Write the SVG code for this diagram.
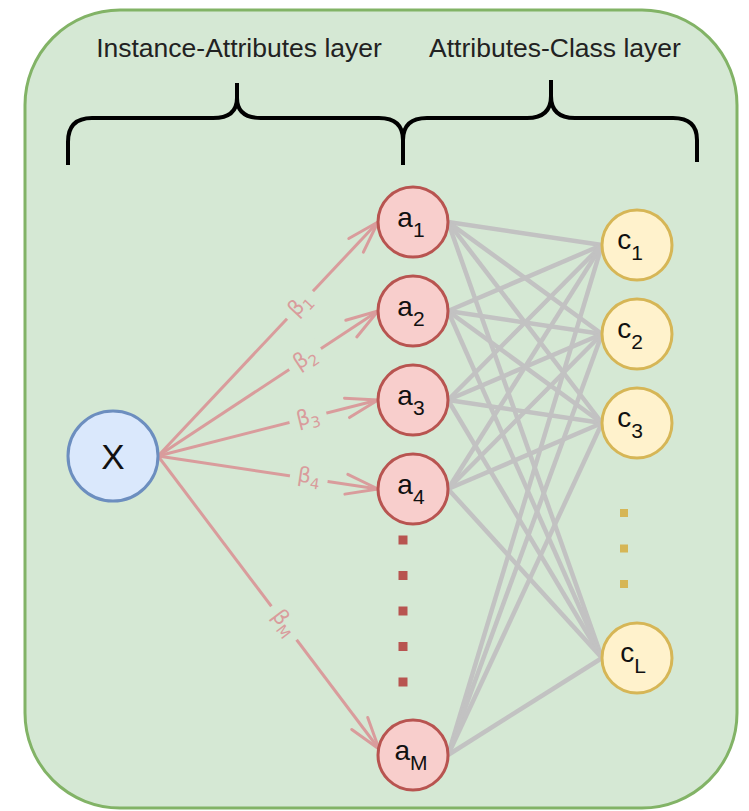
<svg xmlns="http://www.w3.org/2000/svg" width="749" height="811" viewBox="0 0 749 811">
<defs>
<style>
text{font-family:"Liberation Sans",Arial,Helvetica,sans-serif;}
.title{font-size:26.5px;fill:#222;text-anchor:middle;}
.brace{fill:none;stroke:#000;stroke-width:4;stroke-linecap:butt;stroke-linejoin:round;}
.gray{stroke:#c2c2c2;stroke-width:4.5;fill:none;}
.pink{stroke:#d99c9c;stroke-width:3;fill:none;marker-end:url(#openArrow);}
.lblbg{fill:#d5e8d4;}
.lbl{font-family:"DejaVu Sans","Liberation Sans",sans-serif;font-size:21px;fill:#d99c9c;text-anchor:middle;}
.anode{fill:#f8cecc;stroke:#b85450;stroke-width:3;}
.cnode{fill:#fff2cc;stroke:#d6b656;stroke-width:3;}
.xnode{fill:#dae8fc;stroke:#6c8ebf;stroke-width:3;}
.nl{font-size:28px;fill:#111;text-anchor:middle;}
</style>
<marker id="openArrow" markerUnits="userSpaceOnUse" markerWidth="40" markerHeight="30" viewBox="-36 -15 40 30" refX="0" refY="0" orient="auto">
<path d="M-32,-10 L0,0 L-32,10" fill="none" stroke="#d99c9c" stroke-width="3" stroke-linejoin="round" stroke-linecap="round"/>
</marker>
</defs>
<g id="container">
<rect x="25" y="10" width="712" height="798" rx="95" ry="95" fill="#d5e8d4" stroke="#82b366" stroke-width="3"/>
</g>
<g id="layer-labels">
<text class="title" x="239" y="57">Instance-Attributes layer</text>
<text class="title" x="555" y="57">Attributes-Class layer</text>
</g>
<g id="braces">
<path class="brace" d="M68,165 V142 Q68,118 92,118 H213 Q237,118 237,98 V83 M237,98 Q237,118 261,118 H379 Q403,118 403,140 V165"/>
<path class="brace" d="M403,140 Q403,118 427,118 H527 Q551,118 551,96 V80 M551,96 Q551,118 575,118 H673 Q697,118 697,140 V162"/>
</g>
<g id="connectors">
<g id="gray-edges">
<line class="gray" x1="448" y1="222" x2="602" y2="245"/>
<line class="gray" x1="448" y1="222" x2="602" y2="334"/>
<line class="gray" x1="448" y1="222" x2="602" y2="423"/>
<line class="gray" x1="448" y1="222" x2="602" y2="658"/>
<line class="gray" x1="448" y1="311" x2="602" y2="245"/>
<line class="gray" x1="448" y1="311" x2="602" y2="334"/>
<line class="gray" x1="448" y1="311" x2="602" y2="423"/>
<line class="gray" x1="448" y1="311" x2="602" y2="658"/>
<line class="gray" x1="448" y1="400" x2="602" y2="245"/>
<line class="gray" x1="448" y1="400" x2="602" y2="334"/>
<line class="gray" x1="448" y1="400" x2="602" y2="423"/>
<line class="gray" x1="448" y1="400" x2="602" y2="658"/>
<line class="gray" x1="448" y1="489" x2="602" y2="245"/>
<line class="gray" x1="448" y1="489" x2="602" y2="334"/>
<line class="gray" x1="448" y1="489" x2="602" y2="423"/>
<line class="gray" x1="448" y1="489" x2="602" y2="658"/>
<line class="gray" x1="448" y1="755" x2="602" y2="245"/>
<line class="gray" x1="448" y1="755" x2="602" y2="334"/>
<line class="gray" x1="448" y1="755" x2="602" y2="423"/>
<line class="gray" x1="448" y1="755" x2="602" y2="658"/>
</g>
<g id="pink-edges">
<line class="pink" x1="158" y1="456" x2="378" y2="222"/>
<line class="pink" x1="158" y1="456" x2="378" y2="311"/>
<line class="pink" x1="158" y1="456" x2="378" y2="400"/>
<line class="pink" x1="158" y1="456" x2="378" y2="489"/>
<line class="pink" x1="158" y1="456" x2="379" y2="749"/>
</g>
<g id="edge-labels">
<g transform="translate(300,305) rotate(-46.7)"><rect class="lblbg" x="-19" y="-12" width="38" height="24"/><text class="lbl" x="0" y="6">β<tspan font-size="15" dy="5">1</tspan></text></g>
<g transform="translate(305,359) rotate(-33.2)"><rect class="lblbg" x="-19" y="-12" width="38" height="24"/><text class="lbl" x="0" y="6">β<tspan font-size="15" dy="5">2</tspan></text></g>
<g transform="translate(308,418) rotate(-14)"><rect class="lblbg" x="-19" y="-12" width="38" height="24"/><text class="lbl" x="0" y="6">β<tspan font-size="15" dy="5">3</tspan></text></g>
<g transform="translate(309,477) rotate(8.5)"><rect class="lblbg" x="-19" y="-12" width="38" height="24"/><text class="lbl" x="0" y="6">β<tspan font-size="15" dy="5">4</tspan></text></g>
<g transform="translate(284,623) rotate(53)"><rect class="lblbg" x="-21" y="-12" width="42" height="24"/><text class="lbl" x="0" y="6">β<tspan font-size="15" dy="5">M</tspan></text></g>
</g>
</g>
<g id="node-x"><circle class="xnode" cx="113" cy="456" r="45"/><text x="113" y="469" font-size="35" fill="#111" text-anchor="middle">X</text></g>
<g id="node-a1"><circle class="anode" cx="413" cy="222" r="35"/><text class="nl" x="411" y="227">a<tspan font-size="21" dy="10">1</tspan></text></g>
<g id="node-a2"><circle class="anode" cx="413" cy="311" r="35"/><text class="nl" x="411" y="316">a<tspan font-size="21" dy="10">2</tspan></text></g>
<g id="node-a3"><circle class="anode" cx="413" cy="400" r="35"/><text class="nl" x="411" y="405">a<tspan font-size="21" dy="10">3</tspan></text></g>
<g id="node-a4"><circle class="anode" cx="413" cy="489" r="35"/><text class="nl" x="411" y="494">a<tspan font-size="21" dy="10">4</tspan></text></g>
<g id="node-aM"><circle class="anode" cx="413" cy="755" r="35"/><text class="nl" x="411" y="760">a<tspan font-size="21" dy="10">M</tspan></text></g>
<g id="a-dots"><line x1="403" y1="535.5" x2="403" y2="687" stroke="#b85450" stroke-width="9" stroke-dasharray="9 26.5"/></g>
<g id="node-c1"><circle class="cnode" cx="637" cy="245" r="35"/><text class="nl" x="630" y="249">c<tspan font-size="21" dy="11">1</tspan></text></g>
<g id="node-c2"><circle class="cnode" cx="637" cy="334" r="35"/><text class="nl" x="630" y="338">c<tspan font-size="21" dy="11">2</tspan></text></g>
<g id="node-c3"><circle class="cnode" cx="637" cy="423" r="35"/><text class="nl" x="630" y="427">c<tspan font-size="21" dy="11">3</tspan></text></g>
<g id="node-cL"><circle class="cnode" cx="637" cy="658" r="35"/><text class="nl" x="633" y="662">c<tspan font-size="21" dy="11">L</tspan></text></g>
<g id="c-dots"><line x1="624" y1="509" x2="624" y2="588" stroke="#d6b656" stroke-width="8" stroke-dasharray="8 27.5"/></g>
</svg>
